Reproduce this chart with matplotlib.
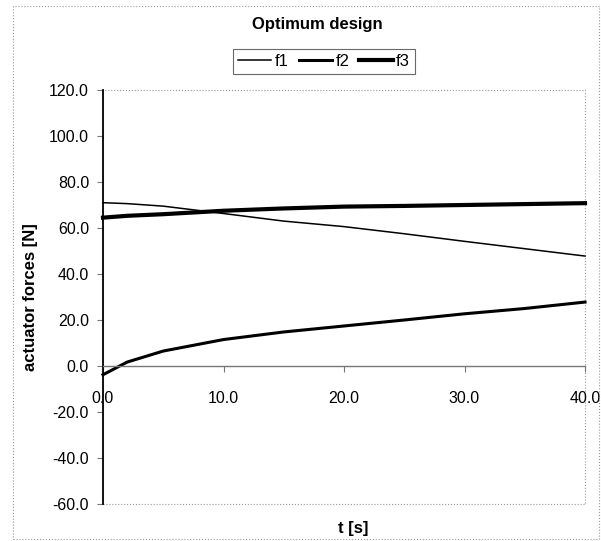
import matplotlib
matplotlib.use("Agg")
import matplotlib.pyplot as plt
from matplotlib.patches import Rectangle
from matplotlib.ticker import FormatStrFormatter

plt.rcParams['font.family'] = ['Liberation Sans', 'DejaVu Sans']

# data
t = [0, 2, 5, 10, 15, 20, 25, 30, 35, 40]
f1 = [71.0, 70.6, 69.5, 66.3, 63.0, 60.6, 57.5, 54.2, 51.0, 47.8]
f2 = [-3.8, 1.7, 6.5, 11.5, 14.8, 17.4, 20.0, 22.7, 25.0, 27.8]
f3 = [64.5, 65.3, 66.0, 67.5, 68.5, 69.3, 69.6, 70.0, 70.4, 70.8]
series_names = ['f1', 'f2', 'f3']
x_ticks = [0, 10, 20, 30, 40]
y_ticks = [-60, -40, -20, 0, 20, 40, 60, 80, 100, 120]

fig = plt.figure(figsize=(6.01, 5.41), dpi=100)
ax = fig.add_axes([103 / 601, 1 - 504 / 541, 482 / 601, 414 / 541])

widths = [1.1, 2.2, 3.0]
handles = []
for vals, name, lw in zip([f1, f2, f3], series_names, widths):
    h, = ax.plot(t, vals, color='black', lw=lw, label=name, clip_on=False)
    handles.append(h)

ax.set_xlim(0, 40)
ax.set_ylim(-60, 120)
ax.set_xticks(x_ticks)
ax.set_yticks(y_ticks)
ax.xaxis.set_major_formatter(FormatStrFormatter('%.1f'))
ax.yaxis.set_major_formatter(FormatStrFormatter('%.1f'))

# axis line at zero, plot area border dotted
ax.spines['bottom'].set_position(('data', 0))
ax.spines['bottom'].set_color('#777777')
ax.spines['bottom'].set_linewidth(1.0)
ax.spines['left'].set_color('black')
ax.spines['left'].set_linewidth(1.3)
ax.spines['top'].set_visible(False)
ax.spines['right'].set_visible(False)
ax.add_patch(Rectangle((0, 0), 1, 1, transform=ax.transAxes, fill=False,
                       ec='#999999', lw=0.8, ls=':', clip_on=False, zorder=0))

ax.tick_params(axis='x', direction='out', length=4, width=0.8, color='#777777',
               pad=14, labelsize=11.5)
ax.tick_params(axis='y', direction='out', length=4, width=0.8, color='#777777',
               pad=6, labelsize=11.5)

fig.text(317 / 601, 1 - 25 / 541, 'Optimum design', ha='center', va='center',
         fontsize=12, fontweight='bold')
fig.text(353 / 601, 1 - 529 / 541, 't [s]', ha='center', va='center',
         fontsize=12, fontweight='bold')
fig.text(31 / 601, 1 - 297 / 541, 'actuator forces [N]', ha='center',
         va='center', rotation=90, fontsize=12, fontweight='bold')

leg = fig.legend(handles=handles, loc='center', ncol=3,
                 bbox_to_anchor=(324 / 601, 1 - 61 / 541), fontsize=12,
                 frameon=True, fancybox=False, handlelength=2.0,
                 handletextpad=0.2, columnspacing=0.6, borderpad=0.3,
                 borderaxespad=0)
leg.get_frame().set_edgecolor('#444444')
leg.get_frame().set_linewidth(0.8)

# outer chart border
fig.patches.append(Rectangle((13 / 601, 2 / 541), 586 / 601, 533 / 541,
                             transform=fig.transFigure, fill=False,
                             ec='#999999', lw=0.8, ls=':'))

fig.savefig('out.png', dpi=100)
